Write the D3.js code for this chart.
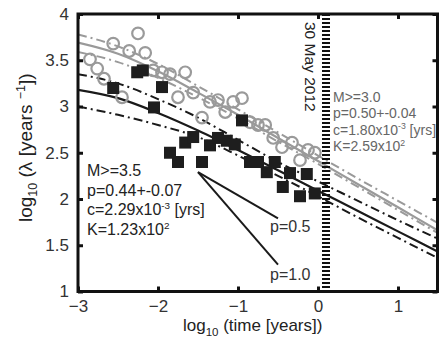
<!DOCTYPE html>
<html><head><meta charset="utf-8">
<script src="https://cdn.jsdelivr.net/npm/d3@7"></script>
<style>
html,body{margin:0;padding:0;background:#fff;}
svg{display:block;font-family:"Liberation Sans",Arial,sans-serif;}
</style></head>
<body><svg id="c" width="440" height="338"></svg>
<script>
// ---- data ----
const xTicks = [-3, -2, -1, 0, 1];
const yTicks = [1, 1.5, 2, 2.5, 3, 3.5, 4];
const yTickLabels = ["1", "1.5", "2", "2.5", "3", "3.5", "4"];
const xTickLabels = ["\u22123", "\u22122", "\u22121", "0", "1"];

// M>=3.0 (gray open circles): log10 time, log10 rate
const grayX = [-2.85,-2.76,-2.675,-2.56,-2.45,-2.36,-2.25,-2.16,-2.06,-1.95,-1.85,-1.75,-1.66,-1.56,-1.45,-1.35,-1.25,-1.16,-1.06,-0.95,-0.85,-0.75,-0.66,-0.56,-0.45,-0.325,-0.225,-0.125,-0.04];
const grayY = [3.51,3.41,3.30,3.68,3.10,3.60,3.79,3.58,3.39,3.37,3.35,3.10,3.37,3.15,2.88,3.05,3.07,2.94,3.05,3.09,2.83,2.80,2.80,2.66,2.56,2.61,2.42,2.53,2.50];

// M>=3.5 (black squares)
const blackX = [-2.56,-2.26,-2.19,-1.95,-2.05,-1.85,-1.75,-1.66,-1.56,-1.45,-1.35,-1.25,-1.14,-1.04,-0.95,-0.85,-0.75,-0.64,-0.54,-0.44,-0.35,-0.225,-0.14,-0.04];
const blackY = [3.20,3.37,3.39,3.21,2.99,2.50,2.40,2.61,2.67,2.40,2.58,2.66,2.63,2.59,2.85,2.40,2.40,2.29,2.40,2.13,2.28,2.03,2.27,2.06];

// fitted curves sampled at these log10 times
const fitX = [-3, -2.5, -2, -1.5, -1, -0.5, 0, 0.5, 1, 1.5];
const grayFit   = [3.69, 3.57, 3.38, 3.15, 2.91, 2.66, 2.41, 2.16, 1.91, 1.66];
const grayUpper = [3.78, 3.65, 3.46, 3.22, 2.97, 2.72, 2.47, 2.22, 1.98, 1.74];
const grayLower = [3.59, 3.48, 3.31, 3.10, 2.87, 2.62, 2.38, 2.13, 1.88, 1.63];
const blackFit   = [3.18, 3.09, 2.93, 2.74, 2.53, 2.31, 2.09, 1.87, 1.65, 1.43];
const blackUpper = [3.35, 3.25, 3.08, 2.88, 2.64, 2.40, 2.19, 1.98, 1.77, 1.57];
const blackLower = [3.00, 2.91, 2.80, 2.67, 2.47, 2.25, 2.03, 1.80, 1.58, 1.36];

// reference slopes
const refStart = [-1.5, 2.29];
const refP05End = [-0.5, 1.79];
const refP10End = [-0.5, 1.29];

const dateX = 0.1;
const dateLabel = "30 May 2012";
const leftText = ["M>=3.5", "p=0.44+-0.07", ["c=2.29x10", "-3", " [yrs]"], ["K=1.23x10", "2", ""]];
const rightText = ["M>=3.0", "p=0.50+-0.04", ["c=1.80x10", "-3", " [yrs]"], ["K=2.59x10", "2", ""]];

// ---- chart ----
const svg = d3.select("#c");
const x = d3.scaleLinear().domain([-3, 1.5]).range([78, 438]);
const y = d3.scaleLinear().domain([1, 4]).range([291.5, 14]);

svg.append("defs").append("clipPath").attr("id","clip")
  .append("rect").attr("x",78).attr("y",14).attr("width",360).attr("height",277.5);

const plot = svg.append("g").attr("clip-path","url(#clip)");

const line = d3.line().x((d,i)=>x(fitX[i])).y(d=>y(d)).curve(d3.curveMonotoneX);
const dashDot = "9,4,2,4";
plot.append("path").attr("d", line(grayUpper)).attr("fill","none").attr("stroke","#9a9a9a").attr("stroke-width",2).attr("stroke-dasharray",dashDot);
plot.append("path").attr("d", line(grayLower)).attr("fill","none").attr("stroke","#9a9a9a").attr("stroke-width",2).attr("stroke-dasharray",dashDot);
plot.append("path").attr("d", line(grayFit)).attr("fill","none").attr("stroke","#9a9a9a").attr("stroke-width",2.2);
plot.append("path").attr("d", line(blackUpper)).attr("fill","none").attr("stroke","#1a1a1a").attr("stroke-width",2).attr("stroke-dasharray",dashDot);
plot.append("path").attr("d", line(blackLower)).attr("fill","none").attr("stroke","#1a1a1a").attr("stroke-width",2).attr("stroke-dasharray",dashDot);
plot.append("path").attr("d", line(blackFit)).attr("fill","none").attr("stroke","#1a1a1a").attr("stroke-width",2.2);

// date marker
plot.append("line").attr("x1",x(dateX)).attr("x2",x(dateX)).attr("y1",14).attr("y2",291)
  .attr("stroke","#111").attr("stroke-width",8).attr("stroke-dasharray","2,2");

// circles
plot.selectAll("circle.g").data(grayX).enter().append("circle")
  .attr("cx",(d)=>x(d)).attr("cy",(d,i)=>y(grayY[i])).attr("r",5.8)
  .attr("fill","none").attr("stroke","#9a9a9a").attr("stroke-width",2.2);

// squares
const sq = 12;
plot.selectAll("rect.b").data(blackX).enter().append("rect")
  .attr("x",(d)=>x(d)-sq/2).attr("y",(d,i)=>y(blackY[i])-sq/2).attr("width",sq).attr("height",sq)
  .attr("fill","#1e1e1e");

// reference slope lines
[refP05End, refP10End].forEach(e=>{
  svg.append("line").attr("x1",x(refStart[0])).attr("y1",y(refStart[1]))
    .attr("x2",x(e[0])).attr("y2",y(e[1])).attr("stroke","#1a1a1a").attr("stroke-width",2);
});
svg.append("text").attr("x",270).attr("y",232).attr("font-size",16).attr("fill","#333").text("p=0.5");
svg.append("text").attr("x",270).attr("y",280).attr("font-size",16).attr("fill","#333").text("p=1.0");

// date label
svg.append("text").attr("transform",`translate(305,22) rotate(90)`).attr("font-size",15.5).attr("fill","#222").text(dateLabel);

// text blocks
function block(lines, x0, y0, dy, fs, col){
  lines.forEach((l,i)=>{
    const t = svg.append("text").attr("x",x0).attr("y",y0+i*dy).attr("font-size",fs).attr("fill",col);
    if (typeof l === "string") t.text(l);
    else {
      t.append("tspan").text(l[0]);
      t.append("tspan").attr("dy",-fs*0.38).attr("font-size",fs*0.62).text(l[1]);
      if (l[2]) t.append("tspan").attr("dy",fs*0.38).text(l[2]);
    }
  });
}
block(leftText, 87, 176, 19.7, 16, "#222");
block(rightText, 333, 102, 16.3, 14, "#666");

// axes frame and ticks
const frame = svg.append("g");
frame.append("rect").attr("x",78).attr("y",14).attr("width",359.5).attr("height",277.5)
  .attr("fill","none").attr("stroke","#111").attr("stroke-width",3);
frame.append("g").attr("transform","translate(0,291.5)")
  .call(d3.axisBottom(x).tickValues(xTicks).tickSize(-5).tickFormat((d,i)=>xTickLabels[i]).tickPadding(8))
  .call(g=>{g.select(".domain").remove(); g.selectAll("line").attr("stroke","#111").attr("stroke-width",3);
    g.selectAll("text").attr("font-size",17).attr("fill","#333").attr("font-family","Liberation Sans, Arial, sans-serif");});
frame.append("g").attr("transform","translate(0,14)")
  .call(d3.axisTop(x).tickValues(xTicks).tickSize(-5).tickFormat(""))
  .call(g=>{g.select(".domain").remove(); g.selectAll("line").attr("stroke","#111").attr("stroke-width",3);});
frame.append("g").attr("transform","translate(78,0)")
  .call(d3.axisLeft(y).tickValues(yTicks).tickSize(-5).tickFormat((d,i)=>yTickLabels[i]).tickPadding(9))
  .call(g=>{g.select(".domain").remove(); g.selectAll("line").attr("stroke","#111").attr("stroke-width",3);
    g.selectAll("text").attr("font-size",17).attr("fill","#333").attr("font-family","Liberation Sans, Arial, sans-serif");});
frame.append("g").attr("transform","translate(437.5,0)")
  .call(d3.axisRight(y).tickValues(yTicks).tickSize(-5).tickFormat(""))
  .call(g=>{g.select(".domain").remove(); g.selectAll("line").attr("stroke","#111").attr("stroke-width",3);});

// axis titles
const xt = svg.append("text").attr("x",183).attr("y",331).attr("font-size",17).attr("fill","#222");
xt.append("tspan").text("log");
xt.append("tspan").attr("dy",5).attr("font-size",11.5).text("10");
xt.append("tspan").attr("dy",-5).text(" (time [years])");

const yt = svg.append("text").attr("transform","translate(32,222) rotate(-90)").attr("font-size",19).attr("fill","#222");
yt.append("tspan").text("log");
yt.append("tspan").attr("dy",5).attr("font-size",12.5).text("10");
yt.append("tspan").attr("dy",-5).text(" (\u03bb [years ");
yt.append("tspan").attr("dy",-7).attr("font-size",12.5).text("\u22121");
yt.append("tspan").attr("dy",7).text("])");
</script></body></html>
